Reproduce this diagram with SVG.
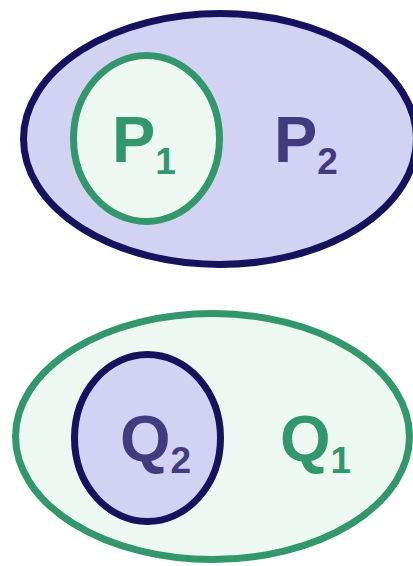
<svg xmlns="http://www.w3.org/2000/svg" width="413" height="566" viewBox="0 0 413 566">
<style>
.navy{fill:#d2d2f3;stroke:#15135e;stroke-width:7}
.green{fill:#eef8f2;stroke:#33976c;stroke-width:7}
text{font-family:"Liberation Sans",Arial,sans-serif;font-weight:bold;font-size:65px}
.tg{fill:#33976c}
.tp{fill:#433a7f}
.sub{font-size:37px}
</style>
<g id="P2">
<ellipse class="navy" cx="220" cy="139" rx="196.5" ry="125.5"/>
<text class="tp" x="274" y="162">P<tspan class="sub" dy="12">2</tspan></text>
</g>
<g id="P1">
<ellipse class="green" cx="146.5" cy="138.5" rx="73" ry="83"/>
<text class="tg" x="112" y="162">P<tspan class="sub" dy="12">1</tspan></text>
</g>
<g id="Q1">
<ellipse class="green" cx="212.5" cy="436.5" rx="197" ry="123"/>
<text class="tg" x="280" y="461">Q<tspan class="sub" dy="12">1</tspan></text>
</g>
<g id="Q2">
<ellipse class="navy" cx="147.5" cy="438" rx="73" ry="83.5"/>
<text class="tp" x="120" y="461">Q<tspan class="sub" dy="12">2</tspan></text>
</g>
<g id="connectors"/>
</svg>
